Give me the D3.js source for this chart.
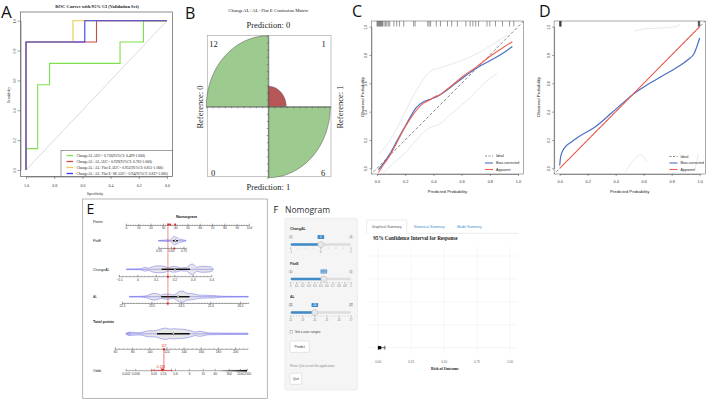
<!DOCTYPE html>
<html><head><meta charset="utf-8">
<script src="https://cdn.jsdelivr.net/npm/d3@7"></script>
<style>body{margin:0;background:#fff}svg{display:block}</style>
</head><body>
<svg id="chart" width="708" height="400"></svg>
<script>
// ---------------- DATA ----------------
// A: ROC curves (specificity, sensitivity)
const rocNames = ["ChangeAL","ChangeAL+AL","ChangeAL+AL+Flat E","ChangeAL+AL+Flat E+SE"];
const rocLegend = [
  "ChangeAL  AUC= 0.726(95%CI: 0.499-1.000)",
  "ChangeAL+AL  AUC= 0.929(95%CI: 0.782-1.000)",
  "ChangeAL+AL+Flat E  AUC= 0.952(95%CI: 0.851-1.000)",
  "ChangeAL+AL+Flat E+SE  AUC= 0.94(95%CI: 0.837-1.000)"];
const rocChangeAL = [[1,0],[1,0.143],[0.917,0.143],[0.917,0.571],[0.833,0.571],[0.833,0.714],[0.333,0.714],[0.333,0.857],[0.167,0.857],[0.167,1],[0,1]];
const rocChangeALAL = [[1,0],[1,0.857],[0.5,0.857],[0.5,1],[0,1]];
const rocChangeALALFlat = [[1,0],[1,0.857],[0.667,0.857],[0.667,1],[0,1]];
const rocChangeALALFlatSE = [[1,0],[1,0.857],[0.583,0.857],[0.583,1],[0,1]];
const rocTicks = [1.0,0.8,0.6,0.4,0.2,0.0];

// B: confusion matrix (rows = prediction, cols = reference)
const cmLevels = ["0","1"];
const cmCounts = [[12,1],[0,6]];

// C: calibration (training)
const calTicks = [0,0.2,0.4,0.6,0.8,1.0];
const rugC = [0.0,0.005,0.01,0.015,0.02,0.025,0.03,0.035,0.04,0.05,0.06,0.07,0.08,0.09,0.12,0.14,0.16,0.19,0.26,0.27,0.36,0.37,0.38,0.42,0.45,0.5,0.53,0.57,0.63,0.66,0.68,0.7,0.72,0.78,0.8,0.84,0.89,0.94,0.97];
const cApparent = [[0.01,-0.03],[0.05,0.03],[0.092,0.09],[0.14,0.18],[0.187,0.27],[0.23,0.34],[0.28,0.41],[0.33,0.46],[0.37,0.48],[0.41,0.505],[0.44,0.515],[0.48,0.545],[0.52,0.576],[0.61,0.65],[0.71,0.72],[0.8,0.79],[0.89,0.85],[0.96,0.894]];
const cBias = [[0.01,-0.01],[0.05,0.04],[0.09,0.10],[0.14,0.19],[0.19,0.28],[0.235,0.36],[0.28,0.43],[0.33,0.47],[0.37,0.485],[0.41,0.5],[0.44,0.515],[0.48,0.54],[0.52,0.57],[0.61,0.64],[0.71,0.71],[0.8,0.76],[0.89,0.81],[0.96,0.86]];
const cUpper = [[0.015,0.10],[0.08,0.18],[0.15,0.3],[0.22,0.44],[0.28,0.55],[0.33,0.63],[0.37,0.68],[0.45,0.71],[0.57,0.75],[0.71,0.81],[0.83,0.88],[0.92,0.94]];
const cLower = [[0.05,-0.03],[0.12,0.04],[0.19,0.1],[0.28,0.2],[0.37,0.285],[0.44,0.31],[0.52,0.38],[0.64,0.48],[0.76,0.6],[0.85,0.67]];

// D: calibration (validation)
const rugD = [0.0,0.003,0.006,0.01,0.99,0.995,1.0];
const dApparent = [[0,0],[1,1]];
const dBias = [[0.0,0.02],[0.005,0.07],[0.012,0.10],[0.025,0.13],[0.048,0.16],[0.09,0.19],[0.13,0.22],[0.25,0.29],[0.37,0.39],[0.45,0.46],[0.52,0.52],[0.61,0.58],[0.73,0.65],[0.85,0.72],[0.92,0.77],[0.96,0.81],[0.98,0.86],[1.0,0.92]];
const dUpper = [[0.535,0.97],[0.61,0.985],[0.7,0.99],[0.83,1.0],[0.86,1.02]];
const dLower1 = [[0.47,-0.03],[0.52,0.05],[0.58,0.094],[0.62,0.05]];
const dLower2 = [[0.965,-0.01],[0.98,0.05],[0.99,0.1]];
const calLegend = ["Ideal","Bias-corrected","Apparent"];

// E: nomogram
const pointsTicks = [0,10,20,30,40,50,60,70,80,90,100];
const flatETicks = [0.55,0.65,0.75];
const changeALTicks = [-0.1,0,0.1,0.2,0.3,0.4];
const alTicks = [22.5,23.5,24.5,25.5,26.5];
const totalTicks = [60,80,100,120,140,160,180,200];
const oddsTicks = [0.002,0.006,0.05,0.15,0.6,3,15,60,300,1100,2500];
const oddsLabels = ["0.002","0.006","0.05","0.15","0.6","3","15","60","300","1100","2500"];
const flatEDens = [[0.55,0.05],[0.6,0.06],[0.62,0.2],[0.63,0.08],[0.65,0.15],[0.66,0.45],[0.67,0.7],[0.68,0.75],[0.69,0.5],[0.7,0.6],[0.71,0.35],[0.72,0.2],[0.735,0.3],[0.75,0.1],[0.77,0.05]];
const changeALDens = [[-0.06,0.05],[0.0,0.05],[0.02,0.08],[0.035,0.3],[0.045,0.35],[0.06,0.1],[0.075,0.4],[0.1,0.6],[0.13,0.55],[0.155,0.5],[0.165,0.15],[0.18,0.45],[0.2,0.5],[0.22,0.4],[0.235,0.15],[0.25,0.35],[0.265,0.2],[0.28,0.6],[0.295,1.0],[0.31,0.7],[0.32,0.2],[0.335,0.5],[0.36,0.5],[0.385,0.45],[0.405,0.4],[0.41,0.05]];
const alDens = [[22.75,0.05],[23.3,0.05],[23.4,0.3],[23.55,0.6],[23.7,0.55],[23.8,0.2],[23.9,0.4],[24.05,0.45],[24.2,0.35],[24.27,0.2],[24.4,0.8],[24.5,1.0],[24.62,0.85],[24.7,0.5],[24.85,0.55],[25.0,0.4],[25.08,0.25],[25.3,0.25],[25.5,0.2],[25.7,0.2],[25.8,0.05],[26.78,0.05]];
const totalDens = [[73,0.15],[78,0.3],[84,0.2],[90,0.15],[95,0.4],[100,0.55],[105,0.45],[110,0.6],[115,0.9],[120,1.0],[124,0.7],[128,0.9],[132,0.8],[136,0.75],[140,0.8],[145,0.6],[150,0.5],[153,0.2],[157,0.45],[162,0.4],[166,0.15],[175,0.15],[185,0.12],[200,0.1],[215,0.1]];
const flatEBox = [0.665,0.685,0.705];
const changeALBox = [0.131,0.203,0.285];
const alBox = [23.83,24.4,24.79];
const totalBox = [109,128,147];
const selFlatE = 0.677, selChangeAL = 0.165, selAL = 24.05;
const selPoints = [34.4,36,40];
const selTotal = 117;
const selOdds = 0.138, selOddsCI = [0.04,0.41];

// F: shiny app
const sliderNames = ["ChangAL","FlatE","AL"];
const sliderMin = [-1,0,22];
const sliderMax = [1,1,27];
const sliderValue = [0,0.55,24];
const sliderGrid = [[-1,0,1],[0,0.1,0.2,0.3,0.4,0.5,0.6,0.7,0.8,0.9,1],[22,23,24,25,26,27]];
const tabNames = ["Graphical Summary","Numerical Summary","Model Summary"];
const riskTicks = [0,0.25,0.5,0.75,1];
const riskEstimate = 0.01, riskCI = [0,0.05];

// ---------------- HELPERS ----------------
const svg = d3.select("#chart");
const SERIF = "'Liberation Serif','DejaVu Serif',serif";
const SANS = "'Liberation Sans',Arial,sans-serif";
const LET = "'Open Sans','Noto Sans',sans-serif";
function label(g,x,y,t,o={}){
  const e=g.append("text").attr("x",x).attr("y",y).text(t)
   .attr("font-family",o.ff||SANS).attr("font-size",o.fs||4).attr("fill",o.fill||"#222")
   .attr("text-anchor",o.anchor||"start");
  if(o.fw) e.attr("font-weight",o.fw);
  if(o.rot) e.attr("transform",`rotate(${o.rot},${x},${y})`);
  return e;
}
function drawAxis(g,axis,tr,fs,ff,col){
  const a=g.append("g").attr("transform",tr).call(axis);
  a.attr("font-size",null).attr("font-family",null);
  a.selectAll("path,line").attr("stroke",col||"#444").attr("stroke-width",0.5);
  a.selectAll("text").attr("font-size",fs).attr("font-family",ff).attr("fill","#333");
  return a;
}
function rotY(a,off){
  a.selectAll("text").attr("x",0).attr("dy",0).attr("text-anchor","middle")
   .attr("transform",`translate(${off},0) rotate(-90)`);
}
const defs = svg.append("defs");
const grad = defs.append("linearGradient").attr("id","oddsGrad");
grad.append("stop").attr("offset","0%").attr("stop-color","#000").attr("stop-opacity",0);
grad.append("stop").attr("offset","60%").attr("stop-color","#000").attr("stop-opacity",0.6);
grad.append("stop").attr("offset","100%").attr("stop-color","#000").attr("stop-opacity",1);

// ---------------- PANEL A ----------------
const gA = svg.append("g");
label(gA,1,18,"A",{ff:LET,fs:17,fill:"#111"});
label(gA,97,8,"ROC Curves with 95% CI (Validation Set)",{ff:SERIF,fs:4.6,fw:"bold",anchor:"middle"});
const xA = d3.scaleLinear().domain([1,0]).range([26,167]);
const yA = d3.scaleLinear().domain([0,1]).range([170,20.7]);
gA.append("rect").attr("x",20.5).attr("y",12).attr("width",152).attr("height",164.5)
  .attr("fill","none").attr("stroke","#444").attr("stroke-width",0.6);
gA.append("line").attr("x1",xA(1)).attr("y1",yA(0)).attr("x2",xA(0)).attr("y2",yA(1))
  .attr("stroke","#d0d0d0").attr("stroke-width",0.8);
drawAxis(gA,d3.axisBottom(xA).tickValues(rocTicks).tickSize(2.5).tickSizeOuter(0).tickPadding(5).tickFormat(d3.format(".1f")),"translate(0,176.5)",4,SERIF);
const ayA = drawAxis(gA,d3.axisLeft(yA).tickValues(rocTicks).tickSize(3).tickSizeOuter(0).tickFormat(d3.format(".1f")),"translate(20.5,0)",3.8,SERIF);
rotY(ayA,-4.5);
label(gA,10,95,"Sensitivity",{ff:SERIF,fs:3.8,anchor:"middle",rot:-90});
label(gA,95,195,"Specificity",{ff:SERIF,fs:3.8,anchor:"middle"});
const rocData = [rocChangeAL,rocChangeALAL,rocChangeALALFlat,rocChangeALALFlatSE];
const rocColors = ["#7ee04a","#cc4747","#ecc94a","#3a3aee"];
const lineA = d3.line().x(d=>xA(d[0])).y(d=>yA(d[1]));
rocData.forEach((d,i)=>gA.append("path").attr("d",lineA(d)).attr("fill","none")
  .attr("stroke",rocColors[i]).attr("stroke-width",1.1));
gA.append("rect").attr("x",61).attr("y",150.5).attr("width",111.5).attr("height",26)
  .attr("fill","#fff").attr("stroke","#444").attr("stroke-width",0.5);
rocLegend.forEach((t,i)=>{
  const y=155.5+i*6;
  gA.append("line").attr("x1",66.5).attr("x2",73).attr("y1",y).attr("y2",y)
    .attr("stroke",rocColors[i]).attr("stroke-width",1.3);
  label(gA,76.5,y+1.3,t,{ff:SERIF,fs:3.7});
});

// ---------------- PANEL B ----------------
const gB = svg.append("g");
label(gB,185,18.5,"B",{ff:LET,fs:16,fill:"#111"});
label(gB,268.3,12,"ChangeAL+AL+Flat E Confusion Matrix",{ff:SERIF,fs:4.8,anchor:"middle"});
const cB = {x:268.3,y:106.7}, RX=62, RY=71;
gB.append("rect").attr("x",207.3).attr("y",35.5).attr("width",123.7).attr("height",141)
  .attr("fill","#fff").attr("stroke","#aaa").attr("stroke-width",0.7);
const quadAngles = [[[-Math.PI/2,0],[0,Math.PI/2]],[[Math.PI,1.5*Math.PI],[Math.PI/2,Math.PI]]];
const arcB = d3.arc().innerRadius(0);
cmCounts.forEach((row,r)=>{
  const mx = d3.max(row);
  row.forEach((n,c)=>{
    if(n===0) return;
    const rad = Math.sqrt(n/mx)*100;
    gB.append("path").attr("d",arcB({outerRadius:rad,startAngle:quadAngles[r][c][0],endAngle:quadAngles[r][c][1]}))
      .attr("transform",`translate(${cB.x},${cB.y}) scale(${RX/100},${RY/100})`)
      .attr("fill", r===c ? "#9dca8e" : "#b65656")
      .attr("stroke","#555").attr("stroke-width",0.5).attr("vector-effect","non-scaling-stroke");
  });
});
const bx = d3.scaleLinear().domain([-1,1]).range([cB.x-RX,cB.x+RX]);
const by = d3.scaleLinear().domain([-1,1]).range([cB.y+RY,cB.y-RY]);
const hx = gB.append("g").attr("transform",`translate(0,${cB.y})`).call(d3.axisBottom(bx).ticks(20).tickSize(1.5).tickSizeOuter(0).tickFormat(""));
const hy = gB.append("g").attr("transform",`translate(${cB.x},0)`).call(d3.axisLeft(by).ticks(20).tickSize(1.5).tickSizeOuter(0).tickFormat(""));
[hx,hy].forEach(a=>a.selectAll("path,line").attr("stroke","#555").attr("stroke-width",0.6));
const cntPos = [[[213.5,46.5],[323.5,46.5]],[[213,175.5],[323,175.5]]];
cmCounts.forEach((row,r)=>row.forEach((n,c)=>label(gB,cntPos[r][c][0],cntPos[r][c][1],String(n),{ff:SERIF,fs:8.5,anchor:"middle"})));
label(gB,268.3,28,"Prediction: "+cmLevels[0],{ff:SERIF,fs:8.5,anchor:"middle"});
label(gB,268.3,190,"Prediction: "+cmLevels[1],{ff:SERIF,fs:8.5,anchor:"middle"});
label(gB,203,107,"Reference: "+cmLevels[0],{ff:SERIF,fs:8.5,anchor:"middle",rot:-90});
label(gB,343,107,"Reference: "+cmLevels[1],{ff:SERIF,fs:8.5,anchor:"middle",rot:-90});

// ---------------- PANELS C & D ----------------
function calPanel(o){
  const g = svg.append("g");
  label(g,o.lx,16.5,o.letter,{ff:LET,fs:16,fill:"#111"});
  const x = d3.scaleLinear().domain([0,1]).range([o.x0,o.x1]);
  const y = d3.scaleLinear().domain([0,1]).range([168.3,26.7]);
  const pad = 0.04*(o.x1-o.x0);
  g.append("rect").attr("x",o.x0-pad).attr("y",21).attr("width",(o.x1-o.x0)+2*pad).attr("height",153)
    .attr("fill","none").attr("stroke","#555").attr("stroke-width",0.5);
  const clipId="clip"+o.letter;
  g.append("clipPath").attr("id",clipId).append("rect").attr("x",o.x0-pad).attr("y",21).attr("width",(o.x1-o.x0)+2*pad).attr("height",153);
  const pg = g.append("g").attr("clip-path",`url(#${clipId})`);
  const ln = d3.line().x(d=>x(d[0])).y(d=>y(d[1])).curve(d3.curveMonotoneX);
  o.gray.forEach(d=>pg.append("path").attr("d",ln(d)).attr("fill","none").attr("stroke","#e2e2e2").attr("stroke-width",0.8));
  pg.append("line").attr("x1",x(-0.05)).attr("y1",y(-0.05)).attr("x2",x(1.05)).attr("y2",y(1.05))
    .attr("stroke","#555").attr("stroke-width",0.7).attr("stroke-dasharray","3,2");
  pg.append("path").attr("d",ln(o.bias)).attr("fill","none").attr("stroke","#4a6fc4").attr("stroke-width",1.2);
  pg.append("path").attr("d",ln(o.app)).attr("fill","none").attr("stroke","#f06050").attr("stroke-width",1.1);
  g.selectAll(null).data(o.rug).enter().append("line")
    .attr("x1",d=>x(d)).attr("x2",d=>x(d)).attr("y1",21).attr("y2",26.5)
    .attr("stroke","#333").attr("stroke-width",o.rugW);
  drawAxis(g,d3.axisBottom(x).tickValues(calTicks).tickSize(2).tickSizeOuter(0).tickPadding(4).tickFormat(d3.format(".1f")),"translate(0,174)",3.8,SANS);
  const ay = drawAxis(g,d3.axisLeft(y).tickValues(calTicks).tickSize(2).tickSizeOuter(0).tickFormat(d3.format(".1f")),`translate(${o.x0-pad},0)`,3.6,SANS);
  rotY(ay,-4);
  label(g,(o.x0+o.x1)/2,192.5,"Predicted Probability",{fs:4.3,anchor:"middle"});
  label(g,o.ylx,97,"Observed Probability",{fs:4.3,anchor:"middle",rot:-90});
  const lc = ["#555","#4a6fc4","#f06050"];
  calLegend.forEach((t,i)=>{
    const yy = o.legY[i];
    g.append("line").attr("x1",o.legX).attr("x2",o.legX+8).attr("y1",yy).attr("y2",yy)
      .attr("stroke",lc[i]).attr("stroke-width",i===0?0.7:1.1).attr("stroke-dasharray",i===0?"2,1.5":null);
    label(g,o.legX+11,yy+1.3,t,{fs:3.6});
  });
}
calPanel({letter:"C",lx:352,x0:377,x1:518,rug:rugC,rugW:0.5,app:cApparent,bias:cBias,gray:[cUpper,cLower],ylx:364,legX:485,legY:[156,163,169.5]});
calPanel({letter:"D",lx:539,x0:559.7,x1:699.7,rug:rugD,rugW:0.8,app:dApparent,bias:dBias,gray:[dUpper,dLower1,dLower2],ylx:540,legX:669.5,legY:[156.5,163,169.5]});

// ---------------- PANEL E ----------------
const gE = svg.append("g");
gE.append("rect").attr("x",82.7).attr("y",199).attr("width",184.6).attr("height",199.3)
  .attr("fill","#fff").attr("stroke","#999").attr("stroke-width",0.7);
label(gE,86.5,214,"E",{ff:LET,fs:14,fill:"#111"});
label(gE,186.5,217.5,"Nomogram",{fs:4,fw:"bold",anchor:"middle"});
const sPts = d3.scaleLinear().domain([0,100]).range([126,249]);
const sFlat = d3.scaleLinear().domain([0.55,0.75]).range([158.5,183.5]);
const sCAL = d3.scaleLinear().domain([-0.1,0.4]).range([119,211.3]);
const sAL = d3.scaleLinear().domain([22.5,26.5]).range([122,240]);
const sTot = d3.scaleLinear().domain([60,180]).range([115,218]);
const sOdds = d3.scaleLog().domain([0.002,2500]).range([125.7,247]);
const varLab = [["Points",223],["FlatE",241.8],["ChangeAL",270.5],["AL",298],["Total points",323],["Odds",372]];
varLab.forEach((v,i)=>label(gE,93,v[1],v[0],{fs:i===4?3.8:3.5,fw:i===4?"bold":null}));
function nomAxis(scale,ticks,fmt,y,ext,minor){
  const a = drawAxis(gE,d3.axisBottom(scale).tickValues(ticks).tickSize(-1.8).tickSizeOuter(0).tickPadding(1.6).tickFormat(fmt),`translate(0,${y})`,3.2,SANS,"#555");
  a.select(".domain").remove();
  gE.append("line").attr("x1",scale(ext[0])).attr("x2",scale(ext[1])).attr("y1",y).attr("y2",y).attr("stroke","#555").attr("stroke-width",0.5);
  if(minor){
    gE.selectAll(null).data(minor).enter().append("line").attr("x1",d=>scale(d)).attr("x2",d=>scale(d))
      .attr("y1",y).attr("y2",y-1).attr("stroke","#555").attr("stroke-width",0.4);
  }
}
nomAxis(sPts,pointsTicks,d=>d,225.5,[0,100],d3.range(0,101,2));
nomAxis(sFlat,flatETicks,d3.format(".2f"),248.5,[0.55,0.775],d3.range(0.55,0.776,0.025));
nomAxis(sCAL,changeALTicks,d=>d===0?"0":d3.format(".1f")(d),276.7,[-0.1,0.4],d3.range(-0.1,0.401,0.02));
nomAxis(sAL,alTicks,d3.format(".1f"),303.5,[22.5,26.8],d3.range(22.5,26.81,0.1));
nomAxis(sTot,totalTicks,d=>d,349.3,[60,215],d3.range(60,216,5));
nomAxis(sOdds,oddsTicks,(d,i)=>oddsLabels[i],370.7,[0.002,2500],null);
gE.append("rect").attr("x",sOdds(100)).attr("y",369.9).attr("width",sOdds(2500)-sOdds(100)).attr("height",1.6).attr("fill","url(#oddsGrad)");
function violin(scale,dens,box,cy){
  const area = d3.area().x(d=>scale(d[0])).y0(d=>cy-d[1]*6).y1(d=>cy+d[1]*6).curve(d3.curveBasis);
  gE.append("path").attr("d",area(dens)).attr("fill","#e6e6e6").attr("stroke","#6a6af0").attr("stroke-width",0.5);
  gE.append("line").attr("x1",scale(dens[0][0])).attr("x2",scale(dens[dens.length-1][0])).attr("y1",cy).attr("y2",cy).attr("stroke","#6a6af0").attr("stroke-width",0.5);
  gE.append("line").attr("x1",scale(box[0])).attr("x2",scale(box[2])).attr("y1",cy).attr("y2",cy).attr("stroke","#111").attr("stroke-width",1.4);
  gE.append("circle").attr("cx",scale(box[1])).attr("cy",cy).attr("r",1).attr("fill","#fff").attr("stroke","#111").attr("stroke-width",0.4);
}
violin(sFlat,flatEDens,flatEBox,240.7);
violin(sCAL,changeALDens,changeALBox,269.3);
violin(sAL,alDens,alBox,296.7);
violin(sTot,totalDens,totalBox,333.8);
gE.append("circle").attr("cx",sTot(76.5)).attr("cy",333.8).attr("r",1.5).attr("fill","none").attr("stroke","#6a6af0").attr("stroke-width",0.5);
// red selections
const red = "#e02020";
gE.append("line").attr("x1",sCAL(selChangeAL)).attr("x2",sCAL(selChangeAL)).attr("y1",223).attr("y2",305.7).attr("stroke",red).attr("stroke-width",0.5);
selPoints.forEach(p=>gE.append("rect").attr("x",sPts(p)-0.9).attr("y",223.6).attr("width",1.8).attr("height",1.8).attr("fill",red));
[[sFlat(selFlatE),248.5],[sCAL(selChangeAL),276.7],[sAL(selAL),303.5]].forEach(p=>
  gE.append("rect").attr("x",p[0]-0.9).attr("y",p[1]-0.9).attr("width",1.8).attr("height",1.8).attr("fill",red));
gE.append("line").attr("x1",sTot(selTotal)).attr("x2",sTot(selTotal)).attr("y1",349.3).attr("y2",370.7).attr("stroke",red).attr("stroke-width",0.6);
gE.append("rect").attr("x",sTot(selTotal)-1).attr("y",348.3).attr("width",2).attr("height",2).attr("fill",red);
label(gE,sTot(selTotal),346.5,String(selTotal),{fs:3.2,fill:red,anchor:"middle"});
gE.append("line").attr("x1",sOdds(selOddsCI[0])).attr("x2",sOdds(selOddsCI[1])).attr("y1",370.4).attr("y2",370.4).attr("stroke",red).attr("stroke-width",0.6);
selOddsCI.forEach(v=>gE.append("line").attr("x1",sOdds(v)).attr("x2",sOdds(v)).attr("y1",368.8).attr("y2",372).attr("stroke",red).attr("stroke-width",0.5));
gE.append("path").attr("d",d3.symbol(d3.symbolTriangle,6)()).attr("transform",`translate(${sOdds(selOdds)},369.6) rotate(180)`).attr("fill",red);
label(gE,sOdds(selOdds)-1.5,367.8,String(selOdds),{fs:3.2,fill:red,anchor:"middle"});

// ---------------- PANEL F ----------------
const gF = svg.append("g");
label(gF,273.5,213,"F",{ff:LET,fs:9,fill:"#111"});
label(gF,285,213,"Nomogram",{ff:LET,fs:8.5,fill:"#333"});
gF.append("rect").attr("x",285).attr("y",218.3).attr("width",72.3).attr("height",171.7).attr("rx",1.5)
  .attr("fill","#f5f5f5").attr("stroke","#e3e3e3").attr("stroke-width",0.6);
const blockY = [229,263.5,297];
sliderNames.forEach((nm,i)=>{
  const y0 = blockY[i];
  const s = d3.scaleLinear().domain([sliderMin[i],sliderMax[i]]).range([290.7,351]);
  label(gF,290,y0+1.2,nm,{fs:3.5,fw:"bold",fill:"#333"});
  [[sliderMin[i],s.range()[0]],[sliderMax[i],s.range()[1]]].forEach(m=>{
    gF.append("rect").attr("x",m[1]-2.3).attr("y",y0+6.3).attr("width",4.6).attr("height",3.6).attr("rx",0.6).attr("fill","#e4e4e4");
    label(gF,m[1],y0+9.1,String(m[0]),{fs:2.8,fill:"#555",anchor:"middle"});
  });
  const vx = s(sliderValue[i]);
  gF.append("rect").attr("x",vx-3.3).attr("y",y0+6.1).attr("width",6.6).attr("height",4).attr("rx",0.6).attr("fill","#428bca");
  label(gF,vx,y0+9.1,String(sliderValue[i]),{fs:2.8,fill:"#fff",anchor:"middle"});
  gF.append("rect").attr("x",s.range()[0]).attr("y",y0+14.3).attr("width",s.range()[1]-s.range()[0]).attr("height",2.4).attr("rx",1.2).attr("fill","#ddd");
  gF.append("rect").attr("x",s.range()[0]).attr("y",y0+14.3).attr("width",vx-s.range()[0]).attr("height",2.4).attr("rx",1.2).attr("fill","#428bca");
  gF.append("circle").attr("cx",vx).attr("cy",y0+15.5).attr("r",3).attr("fill","#e8e8e8").attr("stroke","#b5b5b5").attr("stroke-width",0.5);
  const grid = sliderGrid[i];
  const minorStep = (grid[1]-grid[0])/ (i===1?2:4);
  const minors = d3.range(sliderMin[i],sliderMax[i]+1e-9,minorStep);
  gF.selectAll(null).data(minors).enter().append("line").attr("x1",d=>s(d)).attr("x2",d=>s(d))
    .attr("y1",y0+18.5).attr("y2",y0+19.7).attr("stroke","#999").attr("stroke-width",0.4);
  gF.selectAll(null).data(grid).enter().append("line").attr("x1",d=>s(d)).attr("x2",d=>s(d))
    .attr("y1",y0+18.5).attr("y2",y0+20.5).attr("stroke","#888").attr("stroke-width",0.4);
  grid.forEach(v=>label(gF,s(v),y0+23.5,String(v),{fs:2.6,fill:"#777",anchor:"middle"}));
});
gF.append("rect").attr("x",290).attr("y",330.3).attr("width",2.8).attr("height",2.8).attr("fill","#fff").attr("stroke","#777").attr("stroke-width",0.4);
label(gF,295,332.8,"Set x-axis ranges",{fs:3.3,fill:"#444"});
gF.append("rect").attr("x",290).attr("y",341).attr("width",19.3).attr("height",11.3).attr("rx",1).attr("fill","#fff").attr("stroke","#ccc").attr("stroke-width",0.5);
label(gF,299.7,347.9,"Predict",{fs:3.4,fill:"#333",anchor:"middle"});
label(gF,290,366.5,"Press Quit to exit the application",{fs:3.1,fill:"#8a8a8a"});
gF.append("rect").attr("x",290).attr("y",373.3).attr("width",11.7).attr("height",11).attr("rx",1).attr("fill","#fff").attr("stroke","#ccc").attr("stroke-width",0.5);
label(gF,295.8,380,"Quit",{fs:3.4,fill:"#333",anchor:"middle"});
// tabs
gF.append("line").attr("x1",406.7).attr("x2",518.3).attr("y1",233.3).attr("y2",233.3).attr("stroke","#ddd").attr("stroke-width",0.6);
gF.append("path").attr("d","M366.7,233.3V220H406.7V233.3").attr("fill","none").attr("stroke","#ddd").attr("stroke-width",0.6);
const tabX = [386.7,429.3,469.3];
tabNames.forEach((t,i)=>label(gF,tabX[i],228,t,{fs:3.4,fill:i===0?"#555":"#428bca",anchor:"middle"}));
label(gF,373.3,240,"95% Confidence Interval for Response",{ff:SERIF,fs:5.1,fw:"bold",fill:"#222"});
const xF = d3.scaleLinear().domain([0,1]).range([378.3,510]);
const yF = d3.scaleLinear().domain([0,4]).range([347.7,256]);
gF.selectAll(null).data(riskTicks).enter().append("line").attr("x1",d=>xF(d)).attr("x2",d=>xF(d))
  .attr("y1",246).attr("y2",354).attr("stroke","#ececec").attr("stroke-width",0.5);
gF.selectAll(null).data(d3.range(0,5)).enter().append("line").attr("x1",368).attr("x2",517)
  .attr("y1",d=>yF(d)).attr("y2",d=>yF(d)).attr("stroke","#ececec").attr("stroke-width",0.5);
riskTicks.forEach(v=>label(gF,xF(v),362.5,d3.format(".2f")(v),{fs:3.1,fill:"#666",anchor:"middle"}));
label(gF,445,369.5,"Risk of Outcome",{ff:SERIF,fs:3.9,fw:"bold",fill:"#222",anchor:"middle"});
gF.append("line").attr("x1",xF(riskCI[0])).attr("x2",xF(riskCI[1])).attr("y1",yF(0)).attr("y2",yF(0)).attr("stroke","#000").attr("stroke-width",0.6);
riskCI.forEach(v=>gF.append("line").attr("x1",xF(v)).attr("x2",xF(v)).attr("y1",yF(0)-2).attr("y2",yF(0)+2).attr("stroke","#000").attr("stroke-width",0.6));
gF.append("rect").attr("x",xF(riskEstimate)-1.6).attr("y",yF(0)-1.6).attr("width",3.2).attr("height",3.2).attr("fill","#000");
</script>
</body></html>
